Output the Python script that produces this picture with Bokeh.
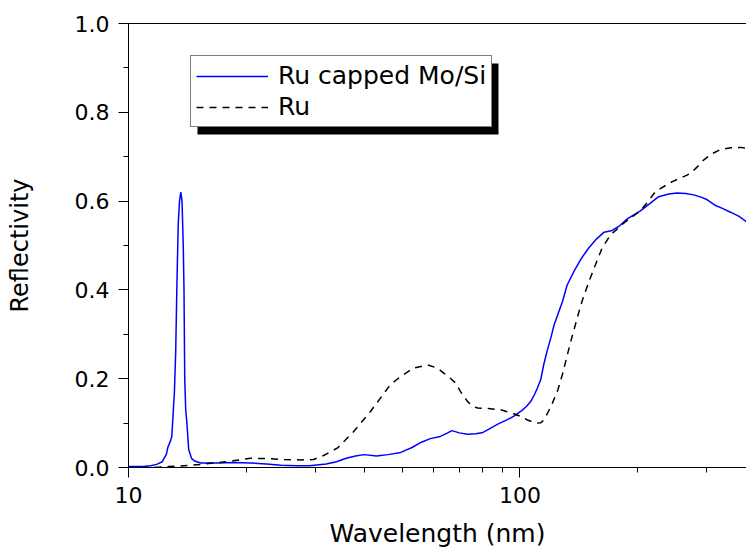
from bokeh.plotting import figure
from bokeh.models import (Legend, LegendItem, LogAxis, FixedTicker, SingleIntervalTicker,
                          PrintfTickFormatter, BoxAnnotation, Range1d)
from bokeh.embed import file_html
from bokeh.resources import INLINE

FONT = "DejaVu Sans"

# Ru capped Mo/Si multilayer
wl_mosi = [10.0, 10.5, 11.0, 11.4, 11.8, 12.2, 12.5, 12.6, 12.8, 12.9, 13.0, 13.1, 13.2,
           13.3, 13.4, 13.5, 13.6, 13.7, 13.8, 13.86, 13.92, 14.0, 14.1, 14.25, 14.5,
           14.8, 15.3, 16.0, 17.0, 18.5, 20.5, 22.5, 24.5, 27.0, 29.0, 32.0, 34.0, 36.0,
           38.0, 40.0, 43.0, 46.0, 49.6, 53.0, 56.0, 59.0, 62.6, 65.0, 67.0, 70.0, 73.4,
           77.0, 80.0, 84.0, 87.5, 92.0, 96.3, 101.0, 104.0, 106.6, 109.0, 110.8, 113.0,
           115.0, 117.5, 120.0, 122.2, 125.0, 128.4, 132.0, 138.0, 144.0, 150.0, 157.0,
           164.0, 172.0, 180.0, 188.0, 203.0, 215.0, 226.0, 240.0, 252.0, 265.0, 278.0,
           290.0, 301.0, 316.0, 330.0, 345.0, 362.0, 380.0]
r_mosi = [0.002, 0.002, 0.003, 0.004, 0.007, 0.013, 0.03, 0.045, 0.06, 0.07, 0.12, 0.17,
          0.26, 0.42, 0.55, 0.60, 0.62, 0.60, 0.50, 0.40, 0.20, 0.13, 0.10, 0.04, 0.02,
          0.014, 0.01, 0.01, 0.01, 0.011, 0.01, 0.008, 0.005, 0.004, 0.004, 0.008, 0.013,
          0.021, 0.026, 0.029, 0.026, 0.029, 0.034, 0.045, 0.057, 0.065, 0.07, 0.077,
          0.083, 0.078, 0.075, 0.076, 0.078, 0.088, 0.097, 0.106, 0.115, 0.128, 0.138,
          0.149, 0.165, 0.179, 0.198, 0.232, 0.265, 0.293, 0.321, 0.345, 0.374, 0.411,
          0.445, 0.473, 0.495, 0.515, 0.530, 0.534, 0.545, 0.560, 0.578, 0.595, 0.610,
          0.616, 0.618, 0.617, 0.614, 0.609, 0.603, 0.590, 0.583, 0.575, 0.566, 0.553]

# Ru single layer
wl_ru = [10.0, 11.0, 12.0, 12.6, 13.5, 14.5, 15.3, 16.9, 18.5, 20.5, 22.6, 25.0, 27.5,
         29.7, 31.5, 34.2, 37.6, 41.5, 46.7, 49.6, 53.5, 58.0, 61.5, 64.0, 66.4, 68.5,
         70.5, 73.4, 76.0, 78.0, 83.0, 89.3, 96.3, 100.5, 104.5, 108.0, 110.8, 113.0,
         115.1, 118.0, 121.0, 125.0, 128.3, 134.8, 141.5, 144.0, 150.0, 162.0, 170.4,
         186.3, 203.0, 212.0, 222.0, 245.0, 268.0, 280.0, 295.0, 310.0, 325.0, 345.0,
         366.0, 380.0]
r_ru = [0.0, 0.0, 0.001, 0.002, 0.003, 0.005, 0.007, 0.011, 0.015, 0.021, 0.02, 0.018,
        0.017, 0.018, 0.027, 0.044, 0.081, 0.126, 0.187, 0.205, 0.224, 0.231, 0.224,
        0.212, 0.201, 0.19, 0.171, 0.149, 0.137, 0.134, 0.133, 0.13, 0.121, 0.115, 0.107,
        0.102, 0.10, 0.101, 0.107, 0.125, 0.145, 0.175, 0.209, 0.284, 0.351, 0.374, 0.419,
        0.494, 0.524, 0.554, 0.578, 0.598, 0.622, 0.644, 0.659, 0.672, 0.693, 0.707,
        0.716, 0.72, 0.721, 0.719]

x_major_ticks = [10, 100]
x_minor_ticks = [20, 30, 40, 50, 60, 70, 80, 90, 200, 300]
series_labels = ["Ru capped Mo/Si", "Ru"]

p = figure(width=746, height=550, x_axis_type="log",
           x_range=Range1d(10, 379), y_range=Range1d(0, 1.0),
           output_backend="svg", toolbar_location=None,
           min_border_left=128, min_border_right=0, min_border_top=23, min_border_bottom=83)
p.outline_line_color = None
p.grid.visible = False

r1 = p.line(wl_mosi, r_mosi, line_color="#0000ff", line_width=1.5)
r2 = p.line(wl_ru, r_ru, line_color="black", line_width=1.5, line_dash="7 6")

xa = p.xaxis[0]
xa.ticker = FixedTicker(ticks=x_major_ticks, minor_ticks=x_minor_ticks)
xa.formatter = PrintfTickFormatter(format="%d")
ya = p.yaxis[0]
ya.ticker = SingleIntervalTicker(interval=0.2, num_minor_ticks=2)
ya.formatter = PrintfTickFormatter(format="%.1f")

for ax in (xa, ya):
    ax.major_tick_out = 10
    ax.major_tick_in = 0
    ax.minor_tick_out = 5
    ax.minor_tick_in = 0
    ax.axis_line_color = "black"
    ax.major_tick_line_color = "black"
    ax.minor_tick_line_color = "black"
    ax.major_label_text_font = FONT
    ax.major_label_text_font_size = "22px"
    ax.major_label_text_color = "black"
    ax.major_label_standoff = 9
    ax.axis_label_text_font = FONT
    ax.axis_label_text_font_style = "normal"
    ax.axis_label_text_color = "black"

xa.axis_label = "Wavelength (nm)"
xa.axis_label_text_font_size = "25px"
xa.axis_label_standoff = 13
ya.axis_label = "Reflectivity"
ya.axis_label_text_font_size = "24px"
ya.axis_label_standoff = 38

top = LogAxis(ticker=FixedTicker(ticks=[]), major_tick_line_color=None,
              minor_tick_line_color=None, major_label_text_font_size="0px",
              axis_line_color="black")
p.add_layout(top, "above")

shadow = BoxAnnotation(left=69, right=370, bottom=333, top=404,
                       left_units="screen", right_units="screen",
                       bottom_units="screen", top_units="screen",
                       fill_color="black", fill_alpha=1.0, line_color=None)
p.add_layout(shadow)

legend = Legend(items=[LegendItem(label=series_labels[0], renderers=[r1]),
                       LegendItem(label=series_labels[1], renderers=[r2])],
                location=(62, 340), glyph_width=72, glyph_height=24, label_height=24,
                label_standoff=10, padding=5, spacing=2, margin=0,
                border_line_color="black", border_line_width=1,
                background_fill_color="white", background_fill_alpha=1.0,
                label_text_font=FONT, label_text_font_size="25px", label_text_color="black")
p.add_layout(legend)

open("out.html", "w").write(file_html(p, INLINE))
